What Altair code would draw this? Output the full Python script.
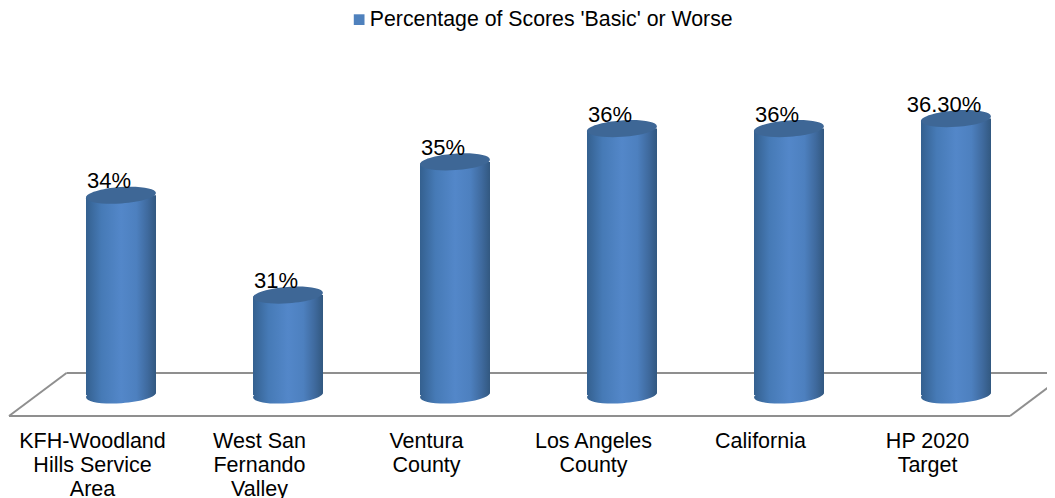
import altair as alt
import pandas as pd

categories = ["KFH-Woodland|Hills Service|Area", "West San|Fernando|Valley", "Ventura|County",
              "Los Angeles|County", "California", "HP 2020|Target"]
values = [34, 31, 35, 36, 36, 36.3]
value_labels = ["34%", "31%", "35%", "36%", "36%", "36.30%"]
series_name = "Percentage of Scores 'Basic' or Worse"
y_floor = 28
y_top = 38

df = pd.DataFrame({"cat": categories, "val": values, "label": value_labels,
                   "base": [y_floor] * len(values), "series": [series_name] * len(values)})

FONT = "Liberation Sans"
ELLIPSE = "M-1,0 A1,0.235 0 1,1 1,0 A1,0.235 0 1,1 -1,0 Z"
body = alt.Gradient(gradient="linear", x1=0, x2=1, y1=0, y2=0, stops=[
    alt.GradientStop(offset=0, color="#34608f"),
    alt.GradientStop(offset=0.22, color="#467aB6"),
    alt.GradientStop(offset=0.5, color="#5387c9"),
    alt.GradientStop(offset=0.72, color="#4d80bf"),
    alt.GradientStop(offset=0.88, color="#3f6a9e"),
    alt.GradientStop(offset=1, color="#325880"),
])

x = alt.X("cat:N", sort=categories, title=None, scale=alt.Scale(paddingInner=0, paddingOuter=0),
          axis=alt.Axis(labelExpr="split(datum.label, '|')", labelAngle=0, labelFont=FONT, labelFontSize=21.5,
                        labelColor="#000000", labelLineHeight=24, labelPadding=35, labelOffset=-28.5,
                        labelAlign="center", labelBaseline="top", domain=False, ticks=False, grid=False,
                        labelOverlap=False, labelLimit=300))
y = alt.Y("val:Q", axis=None, scale=alt.Scale(domain=[y_floor, y_top]))

base = alt.Chart(df)
grey = "#8f8f8f"
floor_lines = [
    alt.Chart(df.head(1)).mark_rule(color=grey, strokeWidth=2, clip=False).encode(
        x=alt.value(a), x2=alt.value(b), y=alt.value(c), y2=alt.value(d))
    for a, b, c, d in [(29, 1020, 311, 311), (-28.5, 972.5, 354, 354),
                       (-28.5, 29, 354, 311), (972.5, 1018, 354, 320)]
]

bars = base.mark_bar(size=70, fill=body, cornerRadiusTopLeft=3, cornerRadiusBottomRight=3).encode(
    x=x, y=y, y2="base:Q")
bottoms = base.mark_point(shape=ELLIPSE, size=4900, angle=356, filled=True, fill=body, opacity=1, strokeWidth=0).encode(
    x=x, y=alt.Y("base:Q", axis=None, scale=alt.Scale(domain=[y_floor, y_top])))
tops = base.mark_point(shape=ELLIPSE, size=4900, angle=356, filled=True, fill="#3e6796", opacity=1, strokeWidth=0).encode(
    x=x, y=y)
labels = base.mark_text(font=FONT, fontSize=22, color="#000000", align="center", baseline="alphabetic",
                        dx=-12, dy=-7).encode(x=x, y=y, text="label:N")
legend_layer = base.mark_square(size=0).encode(
    x=x, y=y,
    color=alt.Color("series:N", title=None, scale=alt.Scale(domain=[series_name], range=["#4f81bd"]),
                    legend=alt.Legend(orient="none", legendX=311, legendY=-53, padding=0, symbolType="square",
                                      symbolSize=115, symbolStrokeWidth=0, symbolOpacity=1, labelFont=FONT,
                                      labelFontSize=21.3, labelColor="#000000", labelLimit=500, labelOffset=0)))

chart = alt.layer(*floor_lines, bottoms, bars, tops, labels, legend_layer).properties(
    width=1002, height=333,
    padding={"left": 29.5, "top": 54, "right": 7.5, "bottom": 103},
    autosize=alt.AutoSizeParams(type="none"),
    background="#ffffff",
).configure_view(stroke=None)

chart.save("out.html", embed_options={"renderer": "svg", "actions": False})
